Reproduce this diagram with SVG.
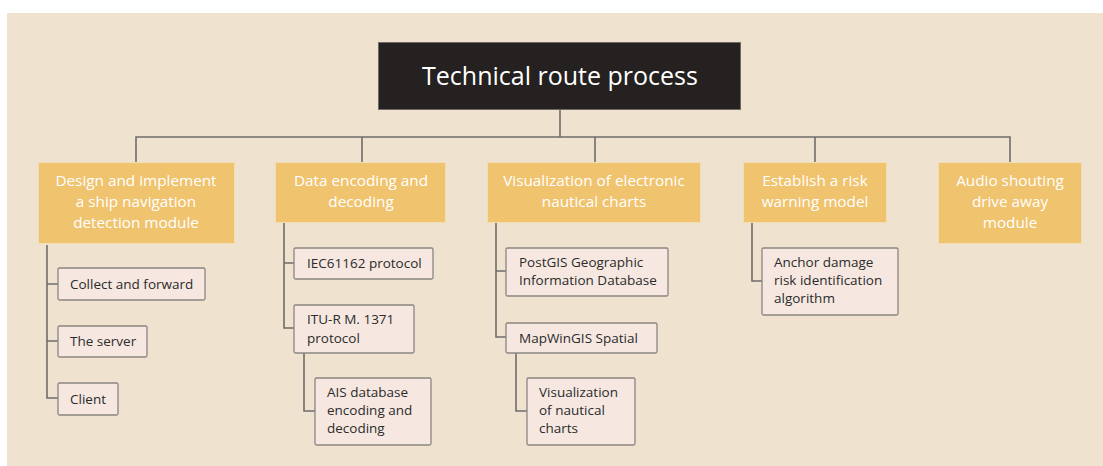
<svg xmlns="http://www.w3.org/2000/svg" width="1103" height="466" viewBox="0 0 1103 466">
<defs>
<style>
.bg{fill:#EFE3D0}
.root rect{fill:#242120;stroke:#6e6a66;stroke-width:1}
.root text{fill:#ffffff;font-family:"Open Sans","Noto Sans",sans-serif;font-size:25px;font-weight:500;text-anchor:middle}
.l1 rect{fill:#F0C36E;stroke:#F3DDB4;stroke-width:1}
.l1 text{fill:#ffffff;font-family:"Open Sans","Noto Sans",sans-serif;font-size:15.3px;font-weight:500;text-anchor:middle}
.l2 rect{fill:#F6E8E0;stroke:#8a8682;stroke-width:1.3}
.l2 text{fill:#2b2b2b;font-family:"Open Sans","Noto Sans",sans-serif;font-size:13.5px;font-weight:500}
.conn path{fill:none;stroke:#6f6c69;stroke-width:1.6}
</style>
</defs>
<rect x="0" y="0" width="1103" height="466" fill="#ffffff"/>
<rect class="bg" x="7" y="13" width="1096" height="453"/>

<g class="conn" id="connectors">
<path d="M560 110V137M136 162V137H1010V162M362 137V162M595 137V162M815 137V162"/>
<path d="M47 245V398H58M47 284H58M47 341H58"/>
<path d="M284 223V328H294M284 263H294"/>
<path d="M304 353V411H315"/>
<path d="M496 223V337H506M496 271H506"/>
<path d="M516 353V411H527"/>
<path d="M752 223V281H762"/>
</g>

<g class="root" id="n-root">
<rect x="378.5" y="42.5" width="362" height="67"/>
<text x="560" y="85">Technical route process</text>
</g>

<g class="l1" id="n-design">
<rect x="38.5" y="162.5" width="196" height="81"/>
<text x="136" y="186">Design and implement</text>
<text x="136" y="207">a ship navigation</text>
<text x="136" y="228">detection module</text>
</g>
<g class="l1" id="n-data">
<rect x="275.5" y="162.5" width="170" height="60"/>
<text x="361" y="186">Data encoding and</text>
<text x="361" y="207">decoding</text>
</g>
<g class="l1" id="n-vis">
<rect x="487.5" y="162.5" width="213" height="60"/>
<text x="594" y="186">Visualization of electronic</text>
<text x="594" y="207">nautical charts</text>
</g>
<g class="l1" id="n-risk">
<rect x="743.5" y="162.5" width="143" height="60"/>
<text x="815" y="186">Establish a risk</text>
<text x="815" y="207">warning model</text>
</g>
<g class="l1" id="n-audio">
<rect x="938.5" y="162.5" width="143" height="81"/>
<text x="1010" y="186">Audio shouting</text>
<text x="1010" y="207">drive away</text>
<text x="1010" y="228">module</text>
</g>

<g class="l2" id="n-collect">
<rect x="58" y="268" width="147" height="32" rx="1.5"/>
<text x="70" y="289">Collect and forward</text>
</g>
<g class="l2" id="n-server">
<rect x="58" y="326" width="89" height="31" rx="1.5"/>
<text x="70" y="346">The server</text>
</g>
<g class="l2" id="n-client">
<rect x="58" y="383" width="60" height="32" rx="1.5"/>
<text x="70" y="404">Client</text>
</g>

<g class="l2" id="n-iec">
<rect x="294" y="248" width="139" height="31" rx="1.5"/>
<text x="307" y="268">IEC61162 protocol</text>
</g>
<g class="l2" id="n-itu">
<rect x="294" y="305" width="120" height="48" rx="1.5"/>
<text x="307" y="324">ITU-R M. 1371</text>
<text x="307" y="343">protocol</text>
</g>
<g class="l2" id="n-ais">
<rect x="315" y="378" width="116" height="67" rx="1.5"/>
<text x="327" y="397">AIS database</text>
<text x="327" y="415">encoding and</text>
<text x="327" y="433">decoding</text>
</g>

<g class="l2" id="n-postgis">
<rect x="506" y="248" width="162" height="48" rx="1.5"/>
<text x="519" y="267">PostGIS Geographic</text>
<text x="519" y="285">Information Database</text>
</g>
<g class="l2" id="n-mapwin">
<rect x="506" y="323" width="151" height="30" rx="1.5"/>
<text x="519" y="343">MapWinGIS Spatial</text>
</g>
<g class="l2" id="n-vischarts">
<rect x="527" y="378" width="108" height="67" rx="1.5"/>
<text x="539" y="397">Visualization</text>
<text x="539" y="415">of nautical</text>
<text x="539" y="433">charts</text>
</g>

<g class="l2" id="n-anchor">
<rect x="762" y="248" width="136" height="67" rx="1.5"/>
<text x="774" y="267">Anchor damage</text>
<text x="774" y="285">risk identification</text>
<text x="774" y="303">algorithm</text>
</g>
</svg>
